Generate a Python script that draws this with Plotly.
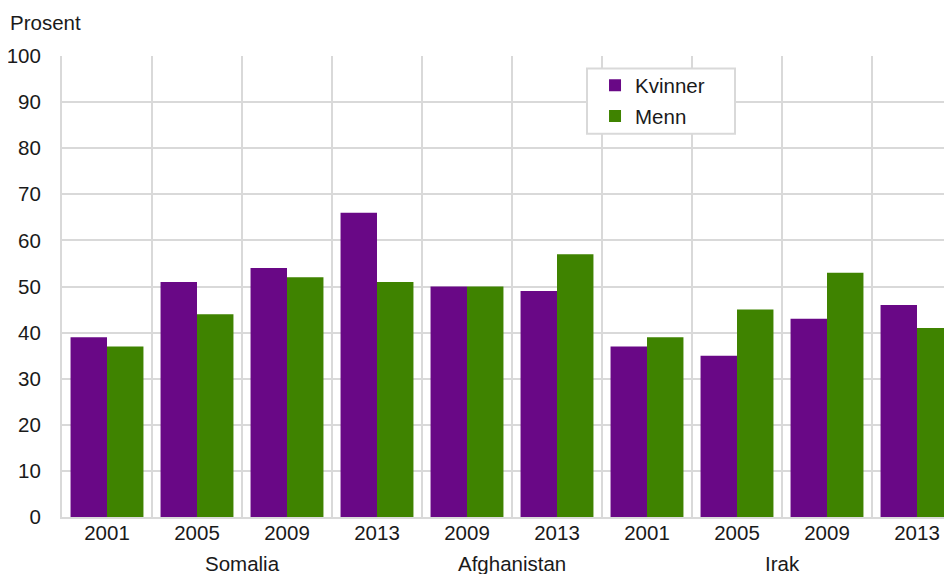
import plotly.graph_objects as go

countries = ["Somalia", "Somalia", "Somalia", "Somalia",
             "Afghanistan", "Afghanistan",
             "Irak", "Irak", "Irak", "Irak"]
years = ["2001", "2005", "2009", "2013", "2009", "2013", "2001", "2005", "2009", "2013"]
kvinner = [39, 51, 54, 66, 50, 49, 37, 35, 43, 46]
menn = [37, 44, 52, 51, 50, 57, 39, 45, 53, 41]

PURPLE = "#690886"
GREEN = "#3F8300"
GRID = "#D9D9D9"
FONT = "Liberation Sans, Arial, sans-serif"
FS = 20.5

xs = list(range(len(years)))

fig = go.Figure()
fig.add_trace(go.Bar(x=xs, y=kvinner, name="Kvinner", marker=dict(color=PURPLE, line=dict(width=0)),
                     legendgroup="k"))
fig.add_trace(go.Bar(x=xs, y=menn, name="Menn", marker=dict(color=GREEN, line=dict(width=0)),
                     legendgroup="m"))

# country group labels centered under their categories
groups = []
for i, c in enumerate(countries):
    if groups and groups[-1][0] == c:
        groups[-1][2] = i
    else:
        groups.append([c, i, i])
for c, a, b in groups:
    fig.add_annotation(x=(a + b) / 2, xref="x", y=0, yref="paper", yanchor="top",
                       yshift=-33, text=c, showarrow=False,
                       font=dict(family=FONT, size=FS, color="#1a1a1a"))

fig.add_annotation(x=0, xref="paper", xanchor="left", xshift=-54, y=1, yref="paper",
                   yanchor="bottom", yshift=20, text="Prosent", showarrow=False,
                   font=dict(family=FONT, size=FS, color="#1a1a1a"))

# legend frame
fig.add_shape(type="rect", xref="paper", yref="paper", x0=0.5899, x1=0.7562, y0=0.8315, y1=0.9728,
              line=dict(color=GRID, width=2), fillcolor="white", layer="above")

fig.update_layout(
    width=944, height=566,
    margin=dict(l=54, r=0, t=48, b=57, pad=0),
    paper_bgcolor="white", plot_bgcolor="white",
    barmode="group", bargap=0.19, bargroupgap=0,
    font=dict(family=FONT, size=FS, color="#1a1a1a"),
    showlegend=True,
    legend=dict(x=0.5989, y=0.9793, xanchor="left", yanchor="top",
                borderwidth=0, bgcolor="rgba(0,0,0,0)",
                font=dict(family=FONT, size=FS, color="#1a1a1a"),
                tracegroupgap=1, itemclick=False),
    xaxis=dict(range=[-0.5, -0.5 + 890 / 90], tickmode="array", tickvals=xs, ticktext=years,
               showgrid=False, zeroline=False, showline=True, linecolor=GRID, linewidth=2,
               ticks="", ticklabelstandoff=-4,
               minor=dict(tick0=0.5, dtick=1, showgrid=True, gridcolor=GRID, gridwidth=2, ticks="")),
    yaxis=dict(range=[0, 100], dtick=10, showgrid=True, gridcolor=GRID, gridwidth=2,
               zeroline=False, showline=True, linecolor=GRID, linewidth=2, ticks="",
               ticklabelstandoff=15),
)

fig.write_html("out.html")
